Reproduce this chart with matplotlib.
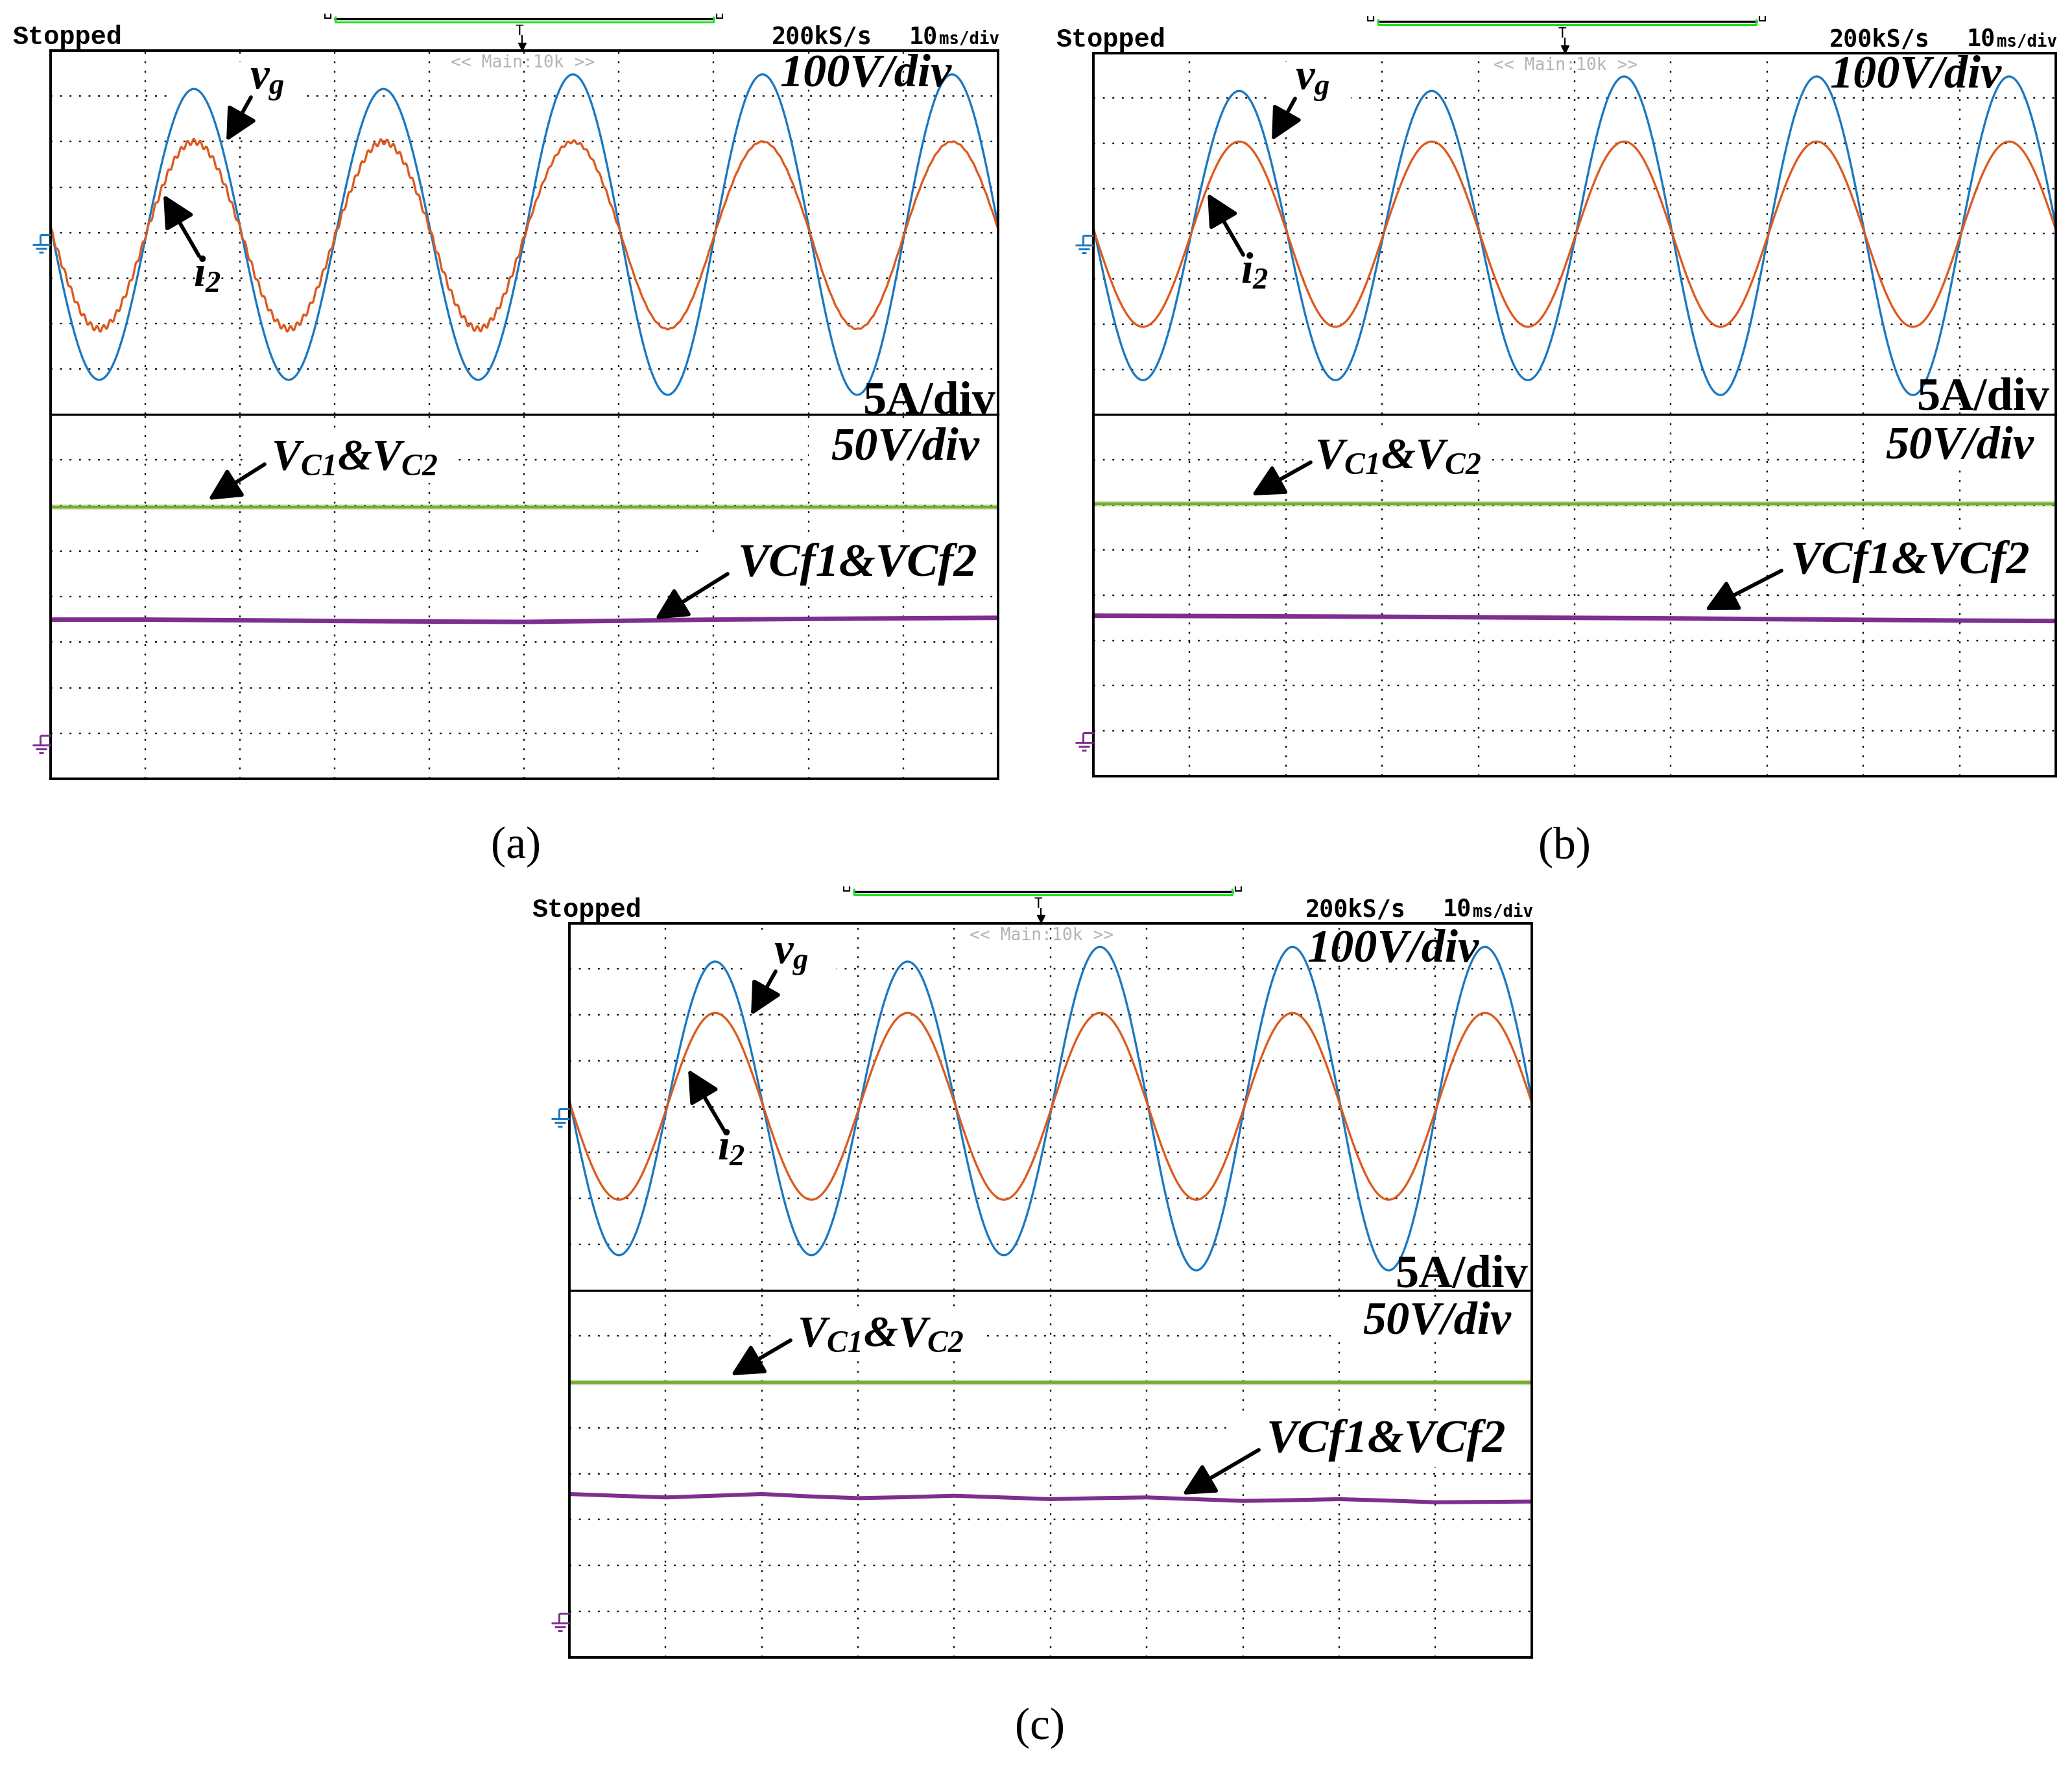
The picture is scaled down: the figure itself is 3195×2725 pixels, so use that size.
import numpy as np
import matplotlib
matplotlib.use("Agg")
import matplotlib.pyplot as plt
from matplotlib.patches import FancyArrowPatch, Rectangle
from matplotlib.lines import Line2D

plt.rcParams['mathtext.fontset'] = 'custom'
plt.rcParams['mathtext.it'] = 'Liberation Serif:italic:bold'
plt.rcParams['mathtext.rm'] = 'Liberation Serif:italic:bold'
plt.rcParams['mathtext.bf'] = 'Liberation Serif:italic:bold'

# ---- values read off the three scope screens ----
# time base 10 ms/div, 10 divisions
T_GRID = [0, 10, 20, 30, 40, 50, 60, 70, 80, 90, 100]
T_FINE = [0, 5, 10, 15, 20, 25, 30, 35, 40, 45, 50, 55, 60, 65, 70, 75, 80, 85, 90, 95, 100]
F_GRID = 50.0          # Hz
ZERO_CROSS_MS = 0.15   # first falling zero crossing of vg

# |extremum| of each half cycle (trough, peak, trough, ...), 100 V/div
VG_HALF_PEAKS = [324, 316, 324, 316, 324, 348, 357, 348, 357, 348]
# i2, 5 A/div
I2_HALF_PEAKS_A = [10.6, 10.0, 10.6, 10.0, 10.6, 10.0, 10.6, 10.0, 10.6, 10.0]
I2_HALF_PEAKS_B = [10.3, 10.2, 10.3, 10.2, 10.3, 10.2, 10.3, 10.2, 10.3, 10.2]
I2_HALF_PEAKS_C = [10.15, 10.2, 10.15, 10.2, 10.15, 10.2, 10.15, 10.2, 10.15, 10.2]
# switching ripple on i2 in (a), amplitude per half cycle (A)
I2_RIPPLE_A = [0.3, 0.3, 0.3, 0.3, 0.3, 0.15, 0.05, 0.05, 0.05, 0.05]
RIPPLE_KHZ = 1.47

# capacitor voltages, 50 V/div
VC_A = [248, 248, 248, 248, 248, 248, 248, 248, 248, 248, 248]
VC_B = [251, 251, 251, 251, 251, 251, 251, 251, 251, 251, 251]
VC_C = [249, 249, 249, 249, 249, 249, 249, 249, 249, 249, 249]
VCF_A = [124.7, 124.7, 124.0, 123.2, 122.6, 122.2, 123.4, 124.7, 125.5, 126.1, 126.7]
VCF_B = [127.4, 127.0, 126.6, 126.2, 125.6, 125.0, 124.4, 123.6, 122.8, 122.0, 121.5]
VCF_C = [127.8, 125.9, 124.1, 125.9, 127.8, 125.2, 123.3, 124.4, 125.9, 124.1, 122.2,
         123.3, 124.1, 122.2, 120.3, 121.1, 122.2, 120.7, 118.8, 119.2, 119.6]

V_DIV_TOP, A_DIV, V_DIV_BOT = 100.0, 5.0, 50.0

BLUE, ORANGE, GREEN, PURPLE = '#1C78C0', '#DC5A1E', '#77AC30', '#7E2F8E'

W, H = 3195, 2725
fig = plt.figure(figsize=(W / 100, H / 100), dpi=100)


def fx(x):
    return x / W


def fy(y):
    return 1 - y / H


def half_index(t, n):
    half = 500.0 / F_GRID
    return np.clip(np.floor((t - ZERO_CROSS_MS) / half).astype(int), 0, n - 1)


def half_cycle_wave(t, mags):
    half = 500.0 / F_GRID
    k = half_index(t, len(mags))
    return -np.asarray(mags, float)[k] * np.sin(np.pi * (t - ZERO_CROSS_MS) / half)


def line_px(pts, color, lw, **kw):
    xs = [fx(p[0]) for p in pts]
    ys = [fy(p[1]) for p in pts]
    fig.add_artist(Line2D(xs, ys, color=color, lw=lw, transform=fig.transFigure,
                          solid_capstyle='butt', **kw))


def ground(xe, y0, color):
    for seg in [((-16, 3), (0, 3)), ((-16, 3), (-16, 18)), ((-28, 18), (0, 18)),
                ((-23, 24), (-6, 24)), ((-18, 30), (-11, 30))]:
        line_px([(xe + seg[0][0], y0 + seg[0][1]), (xe + seg[1][0], y0 + seg[1][1])], color, 2.2)


def arrow(tail, tip):
    fig.add_artist(FancyArrowPatch((fx(tail[0]), fy(tail[1])), (fx(tip[0]), fy(tip[1])),
                                   transform=fig.transFigure, color='k', lw=4.2,
                                   arrowstyle='-|>,head_length=0.75,head_width=0.38',
                                   mutation_scale=40, shrinkA=0, shrinkB=0, zorder=6))


def serif(x, y, s, size=52, ha='left', style='italic', weight='bold'):
    fig.text(fx(x), fy(y), s, fontsize=size, ha=ha, va='baseline',
             family='Liberation Serif', style=style, weight=weight, zorder=5)


panels = [
    dict(tag='(a)', box=(77.7, 78.3, 639.0, 1201.0, 1538.8), tag_xy=(795, 1306),
         i2=I2_HALF_PEAKS_A, ripple=I2_RIPPLE_A, vc=VC_A, vcf_t=T_GRID, vcf=VCF_A, vcf_lw=5.0,
         vg_txt=(385, 137), vg_arr=((387, 150), (349, 218)),
         i2_txt=(298, 442), i2_arr=((307, 395), (252, 300)),
         v100=(1202, 133), a5=(1536, 638), v50=(1281, 708),
         vc_txt=(418, 724), vc_arr=((408, 716), (321, 771)),
         vcf_txt=(1138, 888), vcf_arr=((1122, 885), (1010, 955)),
         masks=[(260, 95, 470, 190), (378, 665, 704, 745), (1247, 645, 1538, 715),
                (1087, 830, 1538, 905)]),
    dict(tag='(b)', box=(1686, 81.7, 639.2, 1196.7, 3170), tag_xy=(2412, 1306),
         i2=I2_HALF_PEAKS_B, ripple=None, vc=VC_B, vcf_t=T_GRID, vcf=VCF_B, vcf_lw=5.0,
         vg_txt=(1997, 138), vg_arr=((1997, 152), (1961, 217)),
         i2_txt=(1913, 437), i2_arr=((1917, 393), (1862, 298)),
         v100=(2821, 134), a5=(3161, 632), v50=(2907, 707),
         vc_txt=(2027, 722), vc_arr=((2021, 713), (1930, 764)),
         vcf_txt=(2761, 884), vcf_arr=((2747, 880), (2629, 941)),
         masks=[(1961, 95, 2083, 190), (2010, 660, 2300, 740), (2875, 645, 3170, 715),
                (2745, 825, 3170, 900)]),
    dict(tag='(c)', box=(878, 1423.5, 1989.5, 2555.7, 2361.7), tag_xy=(1604, 2665),
         i2=I2_HALF_PEAKS_C, ripple=None, vc=VC_C, vcf_t=T_FINE, vcf=VCF_C, vcf_lw=4.4,
         vg_txt=(1193, 1486), vg_arr=((1196, 1498), (1158, 1566)),
         i2_txt=(1106, 1789), i2_arr=((1117, 1744), (1061, 1649)),
         v100=(2015, 1483), a5=(2357, 1985), v50=(2101, 2056),
         vc_txt=(1229, 2076), vc_arr=((1219, 2067), (1127, 2121)),
         vcf_txt=(1953, 2239), vcf_arr=((1941, 2236), (1823, 2305)),
         masks=[(1147, 1440, 1290, 1535), (1188, 2020, 1515, 2095), (2061, 2000, 2361, 2065),
                (1902, 2185, 2361, 2262)]),
]

t = np.linspace(0, 100, 4001)

for p in panels:
    L, T, D, B, R = p['box']
    top = fig.add_axes([fx(L), fy(D), (R - L) / W, (D - T) / H])
    bot = fig.add_axes([fx(L), fy(B), (R - L) / W, (B - D) / H])
    for ax, yt, yl in ((top, range(-3, 4), (-4, 4)), (bot, range(0, 7), (-1, 7))):
        ax.set_xticks(T_GRID[1:-1])
        ax.set_yticks(list(yt))
        ax.tick_params(length=0, labelbottom=False, labelleft=False)
        ax.grid(True, color='k', lw=1.7, linestyle=(0, (1.2, 5.0)))
        ax.set_axisbelow(True)
        for s in ax.spines.values():
            s.set_linewidth(2.8)
        ax.set_facecolor('none')
    top.spines['bottom'].set_visible(False)
    bot.spines['top'].set_linewidth(2.4)

    # white boxes behind the labels hide the graticule there
    for (x0, y0, x1, y1) in p['masks']:
        ax = top if y1 <= D else bot
        ax.add_patch(Rectangle((fx(x0), fy(y1)), (x1 - x0) / W, (y1 - y0) / H,
                               transform=fig.transFigure, facecolor='white',
                               edgecolor='none', zorder=1))

    vg = half_cycle_wave(t, VG_HALF_PEAKS)
    i2 = half_cycle_wave(t, p['i2'])
    if p['ripple'] is not None:
        k = half_index(t, len(p['ripple']))
        i2 = i2 + np.asarray(p['ripple'])[k] * np.sin(2 * np.pi * RIPPLE_KHZ * t)
    top.plot(t, vg / V_DIV_TOP, color=BLUE, lw=2.4, zorder=2)
    top.plot(t, i2 / A_DIV, color=ORANGE, lw=2.4, zorder=2.1)
    vc = np.asarray(p['vc']) / V_DIV_BOT
    bot.plot(T_GRID, vc, color=GREEN, lw=6.0, alpha=0.35, zorder=2)
    bot.plot(T_GRID, vc, color=GREEN, lw=3.2, zorder=2.1)
    bot.plot(p['vcf_t'], np.asarray(p['vcf']) / V_DIV_BOT, color=PURPLE,
             lw=p['vcf_lw'], zorder=2.2, solid_capstyle='butt')
    for ax, yl in ((top, (-4, 4)), (bot, (-1, 7))):
        ax.set_xlim(0, 100)
        ax.set_ylim(*yl)

    # ground markers
    ground(L, (T + D) / 2, BLUE)
    ground(L, B - (B - D) / 8, PURPLE)

    # scope header
    fig.text(fx(L - 58), fy(T - 10), 'Stopped', family='Liberation Mono', weight='bold',
             fontsize=29, va='baseline')
    fig.text(fx(R - 349), fy(T - 10), '200kS/s', family='DejaVu Sans Mono', weight='bold',
             fontsize=26.5, va='baseline')
    fig.text(fx(R - 137), fy(T - 10), '10', family='DejaVu Sans Mono', weight='bold',
             fontsize=26.5, va='baseline')
    fig.text(fx(R - 91), fy(T - 10), 'ms/div', family='DejaVu Sans Mono', weight='bold',
             fontsize=18.5, va='baseline')
    line_px([(L + 423, T - 57), (L + 423, T - 50), (L + 432, T - 50), (L + 432, T - 57)], 'k', 1.6)
    line_px([(L + 1027, T - 57), (L + 1027, T - 50), (L + 1036, T - 50), (L + 1036, T - 57)], 'k', 1.6)
    line_px([(L + 437, T - 49), (L + 1024, T - 49)], 'k', 2.4)
    line_px([(L + 439, T - 53), (L + 439, T - 44), (L + 1022, T - 44), (L + 1022, T - 53)],
            '#1EE01E', 2.2)
    fig.text(fx(L + 723), fy(T - 24), 'T', family='DejaVu Sans Mono', fontsize=15,
             ha='center', va='baseline')
    line_px([(L + 727, T - 24), (L + 727, T - 8)], 'k', 1.6)
    fig.add_artist(Line2D([fx(L + 727)], [fy(T - 6)], marker='v', color='k', markersize=9,
                          transform=fig.transFigure))
    fig.text(fx(L + 728), fy(T + 19), '<< Main:10k >>', family='DejaVu Sans Mono',
             fontsize=19, color='#B4B4B4', ha='center', va='center')

    # labels and arrows
    fig.text(fx(p['vg_txt'][0]), fy(p['vg_txt'][1]), r'$v_g$', fontsize=48, va='baseline', zorder=5)
    fig.text(fx(p['i2_txt'][0]), fy(p['i2_txt'][1]), r'$i_2$', fontsize=48, va='baseline', zorder=5)
    serif(*p['v100'], '100V/div')
    serif(*p['a5'], '5A/div', ha='right', style='normal')
    serif(*p['v50'], '50V/div')
    serif(*p['vc_txt'], r'$V_{C1}$&$V_{C2}$', size=49)
    serif(*p['vcf_txt'], 'VCf1&VCf2')
    for key in ('vg_arr', 'i2_arr', 'vc_arr', 'vcf_arr'):
        arrow(*p[key])

    fig.text(fx(p['tag_xy'][0]), fy(p['tag_xy'][1]), p['tag'], family='Liberation Serif',
             fontsize=50, ha='center', va='center')

fig.savefig('out.png', dpi=100, facecolor='white')
